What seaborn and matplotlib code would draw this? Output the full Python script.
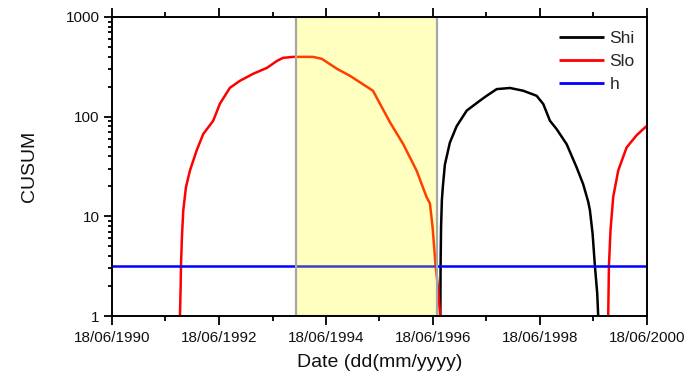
import numpy as np
import pandas as pd
import matplotlib
matplotlib.use("Agg")
import matplotlib.pyplot as plt
import matplotlib.dates as mdates
from matplotlib.ticker import FixedLocator, LogLocator, NullFormatter, FixedFormatter
import seaborn as sns

# ---- data (dates as decimal years) ----
slo1_years = [1991.731, 1991.744, 1991.750, 1991.768, 1991.793, 1991.843, 1991.918,
              1992.043, 1992.167, 1992.353, 1992.479, 1992.666, 1992.853, 1993.096,
              1993.357, 1993.544, 1993.656, 1993.843, 1994.217, 1994.385, 1994.666,
              1994.909, 1995.339, 1995.656, 1995.905, 1996.155, 1996.342, 1996.404,
              1996.454, 1996.484, 1996.510, 1996.544, 1996.572, 1996.596]
slo1_vals = [1, 1.96, 3.18, 6.2, 11.5, 19.6, 28.8,
             45.7, 67, 91, 135, 195, 229, 269,
             309, 363, 389, 398, 398, 380, 302,
             257, 182, 88, 53, 28.8, 15.6, 13.5,
             7.8, 4.9, 3.18, 2.2, 1.5, 1]

shi_years = [1996.600, 1996.604, 1996.613, 1996.628, 1996.647, 1996.684, 1996.778,
             1996.903, 1997.090, 1997.339, 1997.464, 1997.651, 1997.899, 1998.148,
             1998.398, 1998.522, 1998.647, 1998.772, 1998.959, 1999.146, 1999.269,
             1999.363, 1999.395, 1999.445, 1999.488, 1999.531, 1999.550]
shi_vals = [1, 3.18, 7.8, 14.5, 20, 33, 55,
            80, 115, 145, 162, 189, 194, 182,
            162, 134, 91, 75, 53, 31, 21,
            14, 11.5, 6.7, 3.18, 1.7, 1]

slo2_years = [1999.737, 1999.750, 1999.781, 1999.830, 1999.924, 2000.081, 2000.267, 2000.460]
slo2_vals = [1, 3.18, 7.4, 15.6, 28.8, 49, 65, 81]

h_value = 3.16
x_start, x_end = "1990-06-18", "2000-06-18"
shade_start, shade_end = 1993.902, 1996.538

major_tick_dates = ["1990-06-18", "1992-06-18", "1994-06-18", "1996-06-18", "1998-06-18", "2000-06-18"]
minor_tick_dates = ["1991-06-18", "1993-06-18", "1995-06-18", "1997-06-18", "1999-06-18"]
y_ticks = [1, 10, 100, 1000]
y_ticklabels = ["1", "10", "100", "1000"]


def dec2dt(y):
    yr = int(np.floor(y))
    return pd.Timestamp(yr, 1, 1) + pd.Timedelta(days=(y - yr) * 365.25)


df = pd.concat([
    pd.DataFrame({"date": [dec2dt(v) for v in shi_years], "value": shi_vals, "series": "Shi", "seg": "shi"}),
    pd.DataFrame({"date": [dec2dt(v) for v in slo1_years], "value": slo1_vals, "series": "Slo", "seg": "slo1"}),
    pd.DataFrame({"date": [dec2dt(v) for v in slo2_years], "value": slo2_vals, "series": "Slo", "seg": "slo2"}),
    pd.DataFrame({"date": pd.to_datetime([x_start, x_end]), "value": [h_value, h_value], "series": "h", "seg": "h"}),
], ignore_index=True)

sns.set_theme(style="ticks")
plt.rcParams["font.family"] = ["Liberation Sans", "DejaVu Sans"]

fig = plt.figure(figsize=(6.89, 3.77), dpi=100)
ax = fig.add_axes([112 / 689, 1 - 316 / 377, (647 - 112) / 689, (316 - 17) / 377])

colors = {"Shi": "#000000", "Slo": "#ff0000", "h": "#0000ff"}
sns.lineplot(data=df, x="date", y="value", hue="series", units="seg", estimator=None,
             palette=colors, hue_order=["Shi", "Slo", "h"], linewidth=1.8, ax=ax,
             sort=False)
for ln in ax.get_lines():
    ln.set_solid_joinstyle("round")
    ln.set_solid_capstyle("butt")

# highlighted period
s0, s1 = mdates.date2num(dec2dt(shade_start)), mdates.date2num(dec2dt(shade_end))
ax.axvspan(s0, s1, facecolor="#ffff00", alpha=0.25, edgecolor="none", zorder=5)
ax.axvspan(s0, s1, facecolor="none", edgecolor="#a6a6a6", linewidth=1.6, zorder=6)

ax.set_yscale("log")
ax.set_ylim(1, 1000)
ax.set_xlim(pd.Timestamp(x_start), pd.Timestamp(x_end))

ax.xaxis.set_major_locator(FixedLocator(mdates.date2num(pd.to_datetime(major_tick_dates))))
ax.xaxis.set_minor_locator(FixedLocator(mdates.date2num(pd.to_datetime(minor_tick_dates))))
ax.xaxis.set_major_formatter(mdates.DateFormatter("%d/%m/%Y"))

ax.yaxis.set_major_locator(FixedLocator(y_ticks))
ax.yaxis.set_major_formatter(FixedFormatter(y_ticklabels))
ax.yaxis.set_minor_locator(LogLocator(base=10, subs=np.arange(2, 10)))
ax.yaxis.set_minor_formatter(NullFormatter())

for sp in ax.spines.values():
    sp.set_visible(True)
    sp.set_linewidth(1.4)
    sp.set_color("black")
    sp.set_zorder(10)

ax.tick_params(axis="x", which="both", direction="out", top=True, bottom=True,
               width=1.3, color="black", labelsize=11, pad=4, labelcolor="#111111")
ax.tick_params(axis="x", which="major", length=6.5)
ax.tick_params(axis="x", which="minor", length=3.4)
ax.tick_params(axis="y", which="both", direction="out", left=True, right=False,
               width=1.3, color="black", labelsize=11, pad=3, labelcolor="#111111")
ax.tick_params(axis="y", which="major", length=5.8)
ax.tick_params(axis="y", which="minor", length=3.2)

ax.set_xlabel("Date (dd(mm/yyyy)", fontsize=14, labelpad=7, color="#111111")
ax.set_ylabel("CUSUM", fontsize=14, labelpad=20, color="#111111")

ax.grid(False)
leg = ax.legend(loc="upper right", bbox_to_anchor=(1.0, 0.995), frameon=False, fontsize=12.5,
                handlelength=2.6, handletextpad=0.3, labelspacing=0.45, borderaxespad=0.3)
for ln in leg.get_lines():
    ln.set_linewidth(2.0)

fig.savefig("out.png", dpi=100)
